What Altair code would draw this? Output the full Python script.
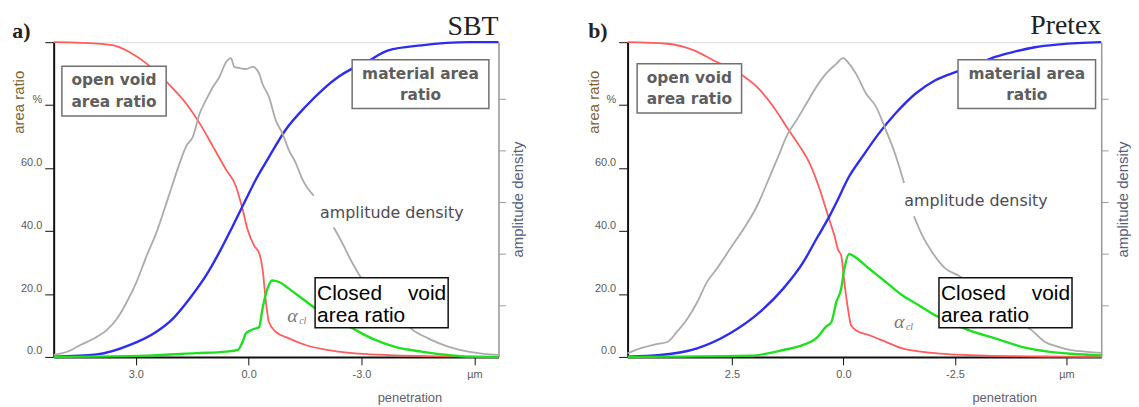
import altair as alt
import pandas as pd

# ---------------- data ----------------
# Panel a) SBT   (x = penetration in µm, area ratios in %, amplitude density in arbitrary units)
a_red_x = [5.18, 4.44, 3.59, 3.16, 2.71, 2.18, 1.66, 1.30, 0.95, 0.60, 0.34, 0.16, 0.03, -0.15, -0.28,
           -0.37, -0.46, -0.54, -0.72, -1.07, -1.51, -2.39, -3.71, -5.87, -6.64]
a_red_y = [100, 99.8, 99.0, 96.8, 93.2, 87.4, 80.5, 74.2, 66.9, 59.5, 54.3, 46.9, 40.6, 35.3, 33.0,
           28.0, 17.4, 11.1, 8.0, 5.9, 3.8, 1.7, 0.6, 0.1, 0.0]

a_blue_x = [5.18, 4.03, 3.15, 2.45, 2.01, 1.57, 1.13, 0.78, 0.42, 0.07, -0.19, -0.54, -0.98, -1.51,
            -1.95, -2.39, -2.75, -3.10, -3.71, -4.59, -5.87, -6.64]
a_blue_y = [0.1, 0.8, 3.8, 8.0, 12.2, 18.5, 25.9, 33.2, 41.6, 50.1, 56.3, 63.5, 72.1, 79.5,
            84.7, 89.0, 91.6, 93.5, 97.4, 99.0, 100, 100]

a_green_x = [5.18, 2.71, 1.39, 0.60, 0.29, 0.16, 0.07, -0.06, -0.28, -0.37, -0.50, -0.63, -0.81,
             -1.07, -1.43, -1.78, -2.26, -2.75, -3.27, -3.89, -4.59, -5.30, -5.87, -6.64]
a_green_y = [0, 0.4, 1.2, 1.7, 2.2, 4.8, 7.5, 8.5, 9.5, 15.4, 21.7, 24.3, 23.8,
             21.7, 18.5, 15.4, 12.0, 9.1, 5.9, 3.2, 1.7, 0.6, 0.1, 0.0]

# amplitude density, two pieces (the curve is interrupted by its label)
a_gray1_x = [5.18, 4.82, 4.47, 4.03, 3.77, 3.50, 3.24, 2.98, 2.71, 2.45, 2.18, 2.01, 1.83, 1.66,
             1.48, 1.30, 1.13, 0.95, 0.78, 0.60, 0.47, 0.38, 0.25, 0.07, -0.11, -0.28, -0.37,
             -0.54, -0.72, -0.90, -1.07, -1.25, -1.43, -1.73]
a_gray1_y = [0.04, 0.10, 0.23, 0.39, 0.52, 0.74, 1.06, 1.45, 1.96, 2.41, 2.99, 3.37, 3.76, 4.08,
             4.27, 4.72, 4.98, 5.23, 5.42, 5.71, 5.79, 5.62, 5.60, 5.58, 5.62, 5.49, 5.29,
             5.04, 4.59, 4.33, 4.01, 3.76, 3.44, 3.12]
a_gray2_x = [-2.26, -2.48, -2.75, -3.01, -3.49, -4.02, -4.32, -4.77, -5.30, -5.87, -6.64]
a_gray2_y = [2.51, 2.22, 1.83, 1.51, 1.13, 0.79, 0.55, 0.36, 0.20, 0.10, 0.04]

# Panel b) Pretex
b_red_x = [4.84, 3.95, 3.35, 2.91, 2.32, 1.94, 1.57, 1.28, 0.98, 0.76, 0.53, 0.39, 0.27, 0.20, 0.12,
           0.05, -0.02, -0.10, -0.17, -0.28, -0.58, -0.95, -1.32, -2.06, -3.18, -4.85, -5.78]
b_red_y = [100, 99.5, 97.4, 94.2, 90.0, 85.8, 79.5, 73.2, 66.9, 61.6, 53.2, 46.9, 41.6, 38.4, 34.0,
           32.2, 23.8, 15.4, 10.1, 8.5, 6.9, 4.8, 2.7, 1.2, 0.4, 0.1, 0.0]

b_blue_x = [4.84, 4.10, 3.28, 2.54, 1.87, 1.35, 0.90, 0.61, 0.31, 0.16, -0.13, -0.43, -0.80, -1.17,
            -1.62, -2.06, -2.51, -2.96, -3.40, -3.84, -4.29, -4.85, -5.78]
b_blue_y = [0.1, 0.6, 2.7, 7.5, 14.3, 21.7, 30.1, 37.4, 44.8, 49.0, 57.4, 63.7, 71.1, 77.4,
            83.7, 87.9, 90.5, 92.7, 95.3, 97.0, 98.4, 99.3, 100]

b_green_x = [4.84, 2.09, 1.35, 0.90, 0.61, 0.39, 0.27, 0.16, 0.05, -0.02, -0.13, -0.21, -0.58,
             -0.95, -1.32, -1.69, -2.06, -2.45, -2.81, -3.40, -4.00, -4.59, -5.11, -5.78]
b_green_y = [0, 0.4, 2.2, 3.8, 5.9, 9.6, 11.1, 17.4, 21.7, 28.0, 32.7, 32.2, 28.0,
             23.8, 19.6, 16.4, 13.2, 10.6, 8.5, 5.9, 3.2, 1.7, 1.0, 0.5]

b_gray1_x = [4.84, 4.54, 4.24, 3.95, 3.73, 3.50, 3.28, 3.06, 2.84, 2.50, 2.24, 1.94, 1.65, 1.43,
             1.28, 1.05, 0.83, 0.61, 0.39, 0.16, 0.01, -0.13, -0.28, -0.51, -0.73, -0.95, -1.18, -1.36]
b_gray1_y = [0.07, 0.17, 0.24, 0.29, 0.49, 0.74, 1.06, 1.45, 1.71, 2.15, 2.48, 2.92, 3.50, 3.95,
             4.27, 4.59, 4.91, 5.23, 5.49, 5.68, 5.79, 5.68, 5.49, 5.10, 4.85, 4.40, 3.88, 3.37]
b_gray2_x = [-1.58, -1.77, -1.99, -2.29, -2.58, -3.18, -3.62, -4.22, -4.52, -4.80, -5.11, -5.47, -5.78]
b_gray2_y = [2.73, 2.35, 2.03, 1.71, 1.58, 1.19, 0.81, 0.52, 0.29, 0.20, 0.13, 0.10, 0.08]

# axes
y_tick_values = [0, 20, 40, 60, 80, 100]
y_tick_labels = ["0.0", "20.0", "40.0", "60.0", "%", ""]
amp_tick_values = [1, 2, 3, 4, 5]
a_x_tick_values = [3.0, 0.0, -3.0, -6.0]
a_x_tick_labels = ["3.0", "0.0", "-3.0", "µm"]
b_x_tick_values = [2.5, 0.0, -2.5, -5.0]
b_x_tick_labels = ["2.5", "0.0", "-2.5", "µm"]
a_x_domain = [-6.64, 5.18]
b_x_domain = [-5.78, 4.84]

RED = "#ff5c5c"
BLUE = "#2d2df2"
GREEN = "#1fe01f"
GRAY = "#ababab"
H = 317
ONE = pd.DataFrame({"k": [0]})


def label_expr(values, labels):
    expr = "''"
    for v, l in zip(reversed(values), reversed(labels)):
        expr = f"abs(datum.value - ({v})) < 1e-6 ? '{l}' : ({expr})"
    return expr


def line_df(x, y):
    return pd.DataFrame({"x": x, "v": y, "o": list(range(len(x)))})


def panel(spec):
    ox, oy = spec["origin"]
    W = spec["width"]

    def px(v):
        return v - ox

    def py(v):
        return v - oy

    xenc = alt.X(
        "x:Q",
        scale=alt.Scale(domain=spec["xdomain"], reverse=True, nice=False, zero=False),
        axis=alt.Axis(
            values=spec["xticks"], labelExpr=label_expr(spec["xticks"], spec["xlabels"]),
            title="penetration", titleX=spec["pen_x"] - ox, titleY=41, titleAlign="center",
            titleBaseline="middle", titleAngle=0, titleFontSize=13, titleFontWeight="normal",
            titleFont="Liberation Sans", titleColor="#5c6072",
            labelFont="Liberation Sans", labelFontSize=11, labelColor="#5a5a5a", labelPadding=4,
            tickSize=8, tickColor="#111", domainColor="#111", domainWidth=2, grid=False,
        ),
    )
    yenc_area = alt.Y(
        "v:Q",
        scale=alt.Scale(domain=[0, 100], nice=False, zero=False),
        axis=alt.Axis(
            values=y_tick_values, labelExpr=label_expr(y_tick_values, y_tick_labels),
            title="area ratio", titleAngle=270, titleX=spec["ar_x"] - ox, titleY=100 - oy,
            titleAlign="center", titleBaseline="middle", titleFontSize=15, titleFontWeight="normal",
            titleFont="Liberation Sans", titleColor="#80602f",
            labelFont="Liberation Sans", labelFontSize=11, labelColor="#5a5a5a",
            labelBaseline="alphabetic", labelOffset=-3, labelPadding=3,
            tickSize=9, tickColor="#111", domainColor="#111", domainWidth=2, grid=False,
        ),
    )
    yenc_amp = alt.Y(
        "v:Q",
        scale=alt.Scale(domain=[0, 6.1], nice=False, zero=False),
        axis=alt.Axis(
            orient="right", values=amp_tick_values, labels=False,
            title="amplitude density", titleAngle=270, titleX=spec["ad_x"], titleY=198 - oy,
            titleAlign="center", titleBaseline="middle", titleFontSize=15, titleFontWeight="normal",
            titleFont="Liberation Sans", titleColor="#56607a",
            tickSize=7, tickColor="#9a9a9a", domainColor="#9a9a9a", domainWidth=1.5, grid=False,
        ),
    )

    def curve(x, y, color, sw):
        return alt.Chart(line_df(x, y)).mark_line(
            color=color, strokeWidth=sw, interpolate="monotone").encode(
            x=xenc, y=yenc_area, order="o:Q")

    area_layer = alt.layer(
        curve(spec["red"][0], spec["red"][1], RED, 1.8),
        curve(spec["blue"][0], spec["blue"][1], BLUE, 2.4),
        curve(spec["green"][0], spec["green"][1], GREEN, 2.4),
    )
    g1 = line_df(spec["gray1"][0], spec["gray1"][1]).assign(seg=0)
    g2 = line_df(spec["gray2"][0], spec["gray2"][1]).assign(seg=1)
    gray = alt.Chart(pd.concat([g1, g2], ignore_index=True)).mark_line(
        color=GRAY, strokeWidth=1.8, interpolate="monotone").encode(
        x=xenc, y=yenc_amp, detail="seg:N", order="o:Q")

    def box(x0, y0, x1, y1, stroke):
        return alt.Chart(ONE).mark_rect(fill="white", stroke=stroke, strokeWidth=1.5).encode(
            x=alt.value(px(x0)), x2=alt.value(px(x1)), y=alt.value(py(y0)), y2=alt.value(py(y1)))

    def txt(s, x, y, size, color, align="center", baseline="middle", font="DejaVu Sans",
            weight="normal", style="normal"):
        return alt.Chart(ONE).mark_text(
            text=s, fontSize=size, color=color, align=align, baseline=baseline, font=font,
            fontWeight=weight, fontStyle=style).encode(x=alt.value(px(x)), y=alt.value(py(y)))

    ov = spec["open_box"]
    mb = spec["mat_box"]
    cb = spec["closed_box"]
    box_txt = "#5e5e5e"
    ann = [
        box(*ov, "#707070"),
        txt("open void", (ov[0] + ov[2]) / 2, ov[1] + 14, 15.5, box_txt, weight="bold"),
        txt("area ratio", (ov[0] + ov[2]) / 2, ov[1] + 36, 15.5, box_txt, weight="bold"),
        box(*mb, "#707070"),
        txt("material area", (mb[0] + mb[2]) / 2, mb[1] + 14, 15.5, box_txt, weight="bold"),
        txt("ratio", (mb[0] + mb[2]) / 2, mb[1] + 36, 15.5, box_txt, weight="bold"),
        box(*cb, "#111111"),
        txt("Closed", cb[0] + 2, cb[1] + 22, 21, "#000", align="left", baseline="alphabetic",
            font="Liberation Sans"),
        txt("void", cb[2] - 2, cb[1] + 22, 21, "#000", align="right", baseline="alphabetic",
            font="Liberation Sans"),
        txt("area ratio", cb[0] + 2, cb[1] + 45, 21, "#000", align="left", baseline="alphabetic",
            font="Liberation Sans"),
        txt("amplitude density", spec["ad_text"][0], spec["ad_text"][1], 16, "#4c4a52",
            align="left"),
        txt("α", spec["alpha"][0], spec["alpha"][1], 20, "#7a7a7a", align="left",
            font="Liberation Serif", style="italic"),
        txt("cl", spec["alpha"][0] + 12, spec["alpha"][1] + 5, 10, "#7a7a7a", align="left",
            font="Liberation Serif", style="italic"),
        txt(spec["tag"], spec["tag_x"], 36, 22, "#222", align="left", baseline="alphabetic",
            font="Liberation Serif", weight="bold"),
        txt(spec["name"], ox + W, spec["name_y"], 28, "#222", align="right", baseline="alphabetic",
            font="Liberation Serif"),
    ]

    return alt.layer(area_layer, gray, *ann).resolve_scale(y="independent").properties(
        width=W, height=H)


panel_a = panel(dict(
    origin=(51.7, 40), width=448, xdomain=a_x_domain, xticks=a_x_tick_values,
    xlabels=a_x_tick_labels, pen_x=410, ar_x=16, ad_x=19,
    red=(a_red_x, a_red_y), blue=(a_blue_x, a_blue_y), green=(a_green_x, a_green_y),
    gray1=(a_gray1_x, a_gray1_y), gray2=(a_gray2_x, a_gray2_y),
    open_box=(60, 64.3, 165, 114.3), mat_box=(352.3, 57.7, 490, 106.7),
    closed_box=(315, 277.3, 449, 327.7), ad_text=(320, 211.7), alpha=(287, 316),
    tag="a)", tag_x=10, name="SBT", name_y=33,
))
panel_b = panel(dict(
    origin=(629.7, 40), width=477, xdomain=b_x_domain, xticks=b_x_tick_values,
    xlabels=b_x_tick_labels, pen_x=1009, ar_x=595.5, ad_x=21,
    red=(b_red_x, b_red_y), blue=(b_blue_x, b_blue_y), green=(b_green_x, b_green_y),
    gray1=(b_gray1_x, b_gray1_y), gray2=(b_gray2_x, b_gray2_y),
    open_box=(639.3, 61.7, 744.5, 111.3), mat_box=(962.5, 57.7, 1101, 106.7),
    closed_box=(943.3, 277.3, 1077.3, 327.7), ad_text=(908.3, 200), alpha=(898, 322),
    tag="b)", tag_x=590, name="Pretex", name_y=32,
))

chart = alt.hconcat(panel_a, panel_b, spacing=130, bounds="flush").properties(
    padding={"left": 2, "top": 2, "right": 0, "bottom": 0}
).configure_view(stroke="#222", strokeWidth=1.5).configure(background="white")

chart.save("out.html", embed_options={"renderer": "svg", "actions": False})
